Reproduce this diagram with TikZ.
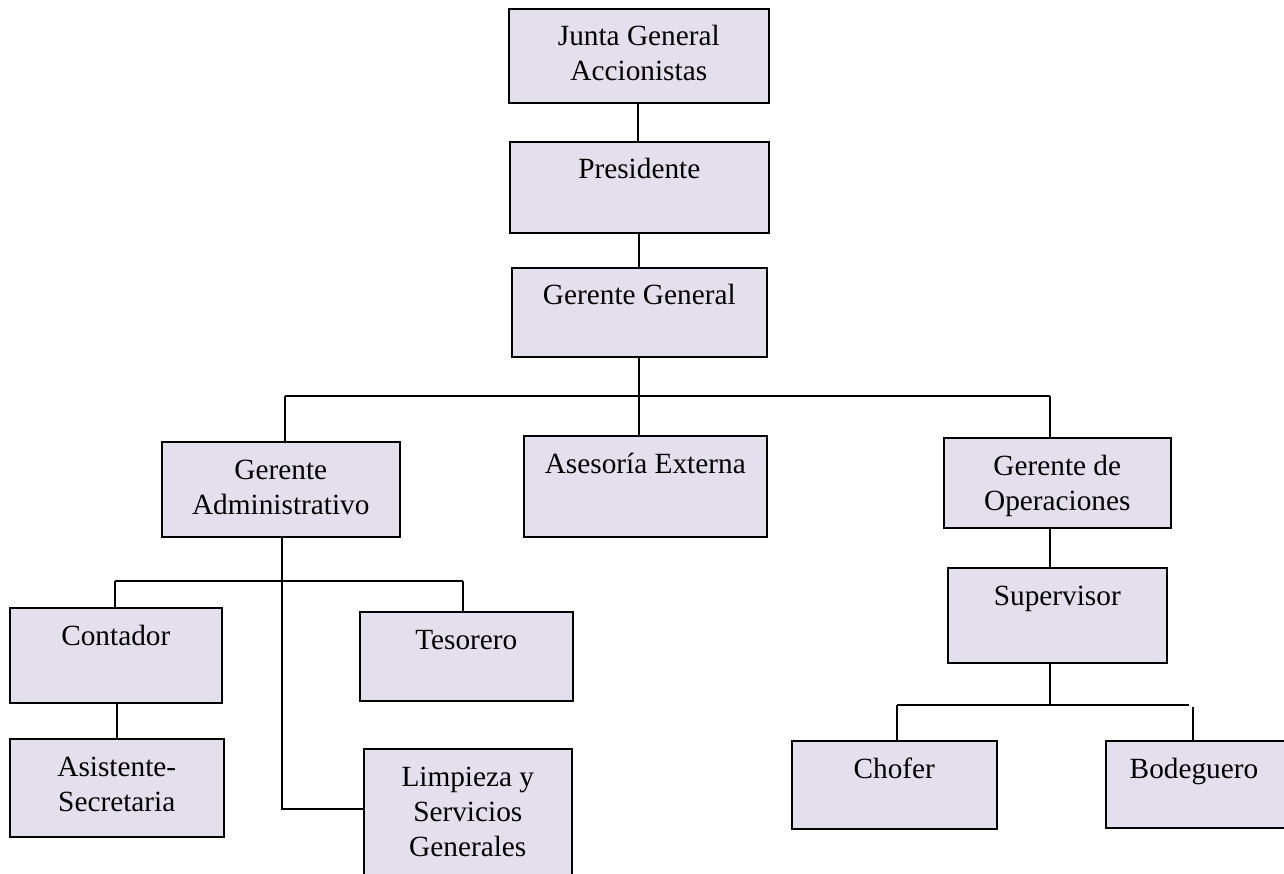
\documentclass[tikz,border=0pt]{standalone}
\usepackage{fontspec}
\setmainfont{Liberation Serif}
\definecolor{boxfill}{RGB}{228,223,236}
\begin{document}
\begin{tikzpicture}[x=1pt,y=-1pt,
  box/.style={draw=black,fill=boxfill,line width=1.6pt,inner sep=0pt,anchor=north west},
  lbl/.style={inner sep=0pt,align=center,anchor=base,font=\fontsize{29.3}{35}\selectfont},
  conn/.style={draw=black,line width=1.6pt}]
\newcommand\obox[5]{\node[box,minimum width={(#4-#2)*1pt},minimum height={(#5-#3)*1pt}] (#1) at (#2,#3) {};}
\newcommand\olbl[3]{\node[lbl] (#1-t) at ([yshift={-(38+35*(#2-1))*1pt}]#1.north) {#3};}
\useasboundingbox (0,0) rectangle (1284,874);
\clip (0,0) rectangle (1284,874);
% boxes
\obox{junta}{508}{8}{768}{102}
\obox{pres}{509}{141}{768}{232}
\obox{gg}{511}{267}{766}{356}
\obox{ga}{161}{441}{399}{536}
\obox{ase}{523}{435}{766}{536}
\obox{go}{943}{437}{1170}{527}
\obox{sup}{947}{567}{1166}{662}
\obox{cont}{9}{607}{221}{702}
\obox{asis}{9}{738}{223}{836}
\obox{teso}{359}{611}{572}{700}
\obox{lim}{363}{748}{571}{900}
\obox{chof}{791}{740}{996}{828}
\obox{bod}{1105}{740}{1300}{827}
% labels
\olbl{junta}{2}{Junta General\\Accionistas}
\olbl{pres}{1}{Presidente}
\olbl{gg}{1}{Gerente General}
\olbl{ga}{2}{Gerente\\Administrativo}
\olbl{ase}{1}{Asesoría Externa}
\olbl{go}{2}{Gerente de\\Operaciones}
\olbl{sup}{1}{Supervisor}
\olbl{cont}{1}{Contador}
\olbl{asis}{2}{Asistente-\\Secretaria}
\olbl{teso}{1}{Tesorero}
\olbl{lim}{3}{Limpieza y\\Servicios\\Generales}
\olbl{chof}{1}{Chofer}
\node[lbl] (bod-t) at ([yshift=-38pt]1194,740) {Bodeguero};
% coordinates
\coordinate (gx) at (639,396);
\coordinate (b1L) at (285,396);
\coordinate (b1R) at (1050,396);
\coordinate (gaL) at (282,809);
\coordinate (b2L) at (115,581);
\coordinate (b2R) at (463,581);
\coordinate (ax) at (117,702);
\coordinate (ox) at (1050,527);
\coordinate (s1) at (1050,705);
\coordinate (b3L) at (897,705);
\coordinate (b3R) at (1189,705);
\coordinate (b3D) at (1193,707);
% connectors
\draw[conn] (junta.south -| 638,0) -- (pres.north -| 638,0);
\draw[conn] (pres.south -| gx) -- (gg.north -| gx);
\draw[conn] (gg.south -| gx) -- (gx);
\draw[conn] (b1L) -- (b1R);
\draw[conn] (b1L) -- (b1L |- ga.north);
\draw[conn] (gx) -- (gx |- ase.north);
\draw[conn] (b1R) -- (b1R |- go.north);
\draw[conn] (go.south -| ox) -- (ox |- sup.north);
\draw[conn] (ga.south -| gaL) -- (gaL) -- (gaL -| lim.west);
\draw[conn] (b2L) -- (b2R);
\draw[conn] (b2L) -- (b2L |- cont.north);
\draw[conn] (b2R) -- (b2R |- teso.north);
\draw[conn] (ax |- cont.south) -- (ax |- asis.north);
\draw[conn] (sup.south -| s1) -- (s1);
\draw[conn] (b3L) -- (b3R);
\draw[conn] (b3L) -- (b3L |- chof.north);
\draw[conn] (b3D) -- (b3D |- bod.north);
\end{tikzpicture}
\end{document}
